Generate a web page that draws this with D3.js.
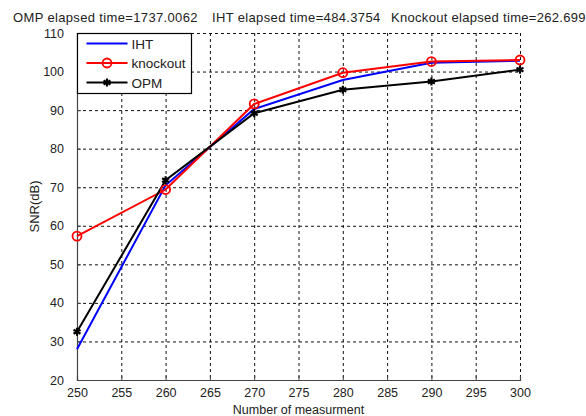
<!DOCTYPE html>
<html>
<head>
<meta charset="utf-8">
<script src="https://cdn.jsdelivr.net/npm/d3@7"></script>
<style>
 body { margin: 0; background: #fff; }
 text { font-family: "Liberation Sans", Arial, sans-serif; fill: #222; }
</style>
</head>
<body>
<div id="grafico"></div>
<script>
// data
var measurements = [250, 260, 270, 280, 290, 300];
var iht      = [28.0, 70.5, 90.3, 97.8, 102.3, 102.8];
var knockout = [57.3, 69.4, 91.6, 99.7, 102.6, 103.0];
var opm      = [32.5, 71.8, 89.2, 95.3, 97.4, 100.5];
var xTicks = [250, 255, 260, 265, 270, 275, 280, 285, 290, 295, 300];
var yTicks = [20, 30, 40, 50, 60, 70, 80, 90, 100, 110];
var titles = ["OMP elapsed time=1737.0062", "IHT elapsed time=484.3754", "Knockout elapsed time=262.699"];

var W = 586, H = 416;
var margin = {top: 33, right: 66, bottom: 36, left: 77},
    width = W - margin.left - margin.right,
    height = H - margin.top - margin.bottom;

var svg = d3.select("#grafico").append("svg")
  .attr("width", W).attr("height", H)
  .style("background", "#fff");

var g = svg.append("g")
  .attr("transform", "translate(" + margin.left + "," + margin.top + ")");

var x = d3.scaleLinear().domain([250, 300]).range([0, width]);
var y = d3.scaleLinear().domain([20, 110]).range([height, 0]);

// grid
g.append("g").selectAll("line").data(xTicks.slice(1)).enter().append("line")
  .attr("x1", function(d) { return x(d) + 0.5; })
  .attr("x2", function(d) { return x(d) + 0.5; })
  .attr("y1", 0).attr("y2", height)
  .attr("stroke", "#111").attr("stroke-dasharray", "3,3");
g.append("g").selectAll("line").data(yTicks.slice(1)).enter().append("line")
  .attr("y1", function(d) { return y(d) + 0.5; })
  .attr("y2", function(d) { return y(d) + 0.5; })
  .attr("x1", 0).attr("x2", width)
  .attr("stroke", "#111").attr("stroke-dasharray", "3,3");

// axes (MATLAB style: ticks inside)
var xAxis = g.append("g")
  .attr("transform", "translate(0," + height + ")")
  .call(d3.axisBottom(x).tickValues(xTicks).tickSize(-4).tickPadding(8));
var yAxis = g.append("g")
  .call(d3.axisLeft(y).tickValues(yTicks).tickSize(-4).tickPadding(13));
[xAxis, yAxis].forEach(function(a) {
  a.select(".domain").attr("stroke", "#444").attr("stroke-width", 1.2);
  a.selectAll(".tick line").attr("stroke", "#444");
  a.selectAll("text").attr("font-size", 12.5).style("fill", "#222")
    .attr("font-family", "Liberation Sans, Arial, sans-serif");
});

// labels
svg.append("text")
  .attr("x", margin.left + width / 2).attr("y", 414)
  .attr("text-anchor", "middle").attr("font-size", 12.5)
  .text("Number of measurment");
svg.append("text")
  .attr("transform", "translate(39," + (margin.top + height / 2) + ") rotate(-90)")
  .attr("text-anchor", "middle").attr("font-size", 13)
  .text("SNR(dB)");

// title
var titleX = [13, 212, 391];
var titleSpacing = [0.35, 0.35, 0.3];
svg.selectAll(".tit").data(titles).enter().append("text")
  .attr("class", "tit")
  .attr("x", function(d, i) { return titleX[i]; })
  .attr("y", 22).attr("font-size", 13)
  .attr("letter-spacing", function(d, i) { return titleSpacing[i]; })
  .text(function(d) { return d; });

// lines
var series = [
  {name: "IHT", values: iht, color: "#0000ff", marker: "none"},
  {name: "knockout", values: knockout, color: "#ff0000", marker: "circle"},
  {name: "OPM", values: opm, color: "#000000", marker: "star"}
];

var line = d3.line()
  .x(function(d, i) { return x(measurements[i]); })
  .y(function(d) { return y(d); });

series.forEach(function(s) {
  g.append("path").datum(s.values)
    .attr("fill", "none").attr("stroke", s.color)
    .attr("stroke-width", 2).attr("d", line);
});

function drawMarker(sel, s) {
  if (s.marker == "circle") {
    sel.append("circle").attr("r", 4.5)
      .attr("fill", "none").attr("stroke", s.color).attr("stroke-width", 1.8);
  } else if (s.marker == "star") {
    sel.append("path").attr("d", d3.symbol().type(d3.symbolAsterisk).size(45)())
      .attr("fill", "none").attr("stroke", s.color).attr("stroke-width", 2.2);
  }
}

series.forEach(function(s) {
  if (s.marker == "none") return;
  s.values.forEach(function(v, i) {
    var m = g.append("g")
      .attr("transform", "translate(" + x(measurements[i]) + "," + y(v) + ")");
    drawMarker(m, s);
  });
});

// legend
var leg = g.append("g").attr("transform", "translate(0.5,0.5)");
leg.append("rect").attr("x", 0).attr("y", 0).attr("width", 114).attr("height", 60)
  .attr("fill", "#fff").attr("stroke", "#000").attr("stroke-width", 1.2);
series.forEach(function(s, i) {
  var ly = 10 + i * 19.5;
  leg.append("line").attr("x1", 9).attr("x2", 50).attr("y1", ly).attr("y2", ly)
    .attr("stroke", s.color).attr("stroke-width", 2);
  drawMarker(leg.append("g").attr("transform", "translate(29.5," + ly + ")"), s);
  leg.append("text").attr("x", 54).attr("y", ly + 5).attr("font-size", 13.5).text(s.name);
});
</script>
</body>
</html>
